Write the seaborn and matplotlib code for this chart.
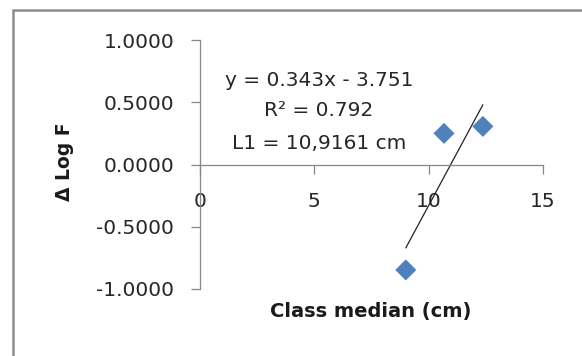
import matplotlib
matplotlib.use("Agg")
import matplotlib.pyplot as plt
import seaborn as sns
import pandas as pd
from matplotlib.patches import Rectangle
from matplotlib.ticker import FormatStrFormatter

# Data
class_median = [9.0, 10.67, 12.37]
delta_log_f = [-0.847, 0.25, 0.306]
annotation_lines = ["y = 0.343x - 3.751", "R² = 0.792", "L1 = 10,9161 cm"]
x_ticks = [0, 5, 10, 15]
y_ticks = [-1.0, -0.5, 0.0, 0.5, 1.0]

df = pd.DataFrame({"x": class_median, "y": delta_log_f})

sns.set_theme(style="white")
plt.rcParams["font.family"] = ["DejaVu Sans"]

W, H = 582, 356
fig = plt.figure(figsize=(W / 100, H / 100), dpi=100)
fig.patch.set_facecolor("white")

# chart-area border (gray frame, left and top visible)
fig.add_artist(Rectangle((13 / W, -0.05), 1.2, (H - 10) / H + 0.05,
                         transform=fig.transFigure, fill=False,
                         edgecolor="#8c8c8c", linewidth=1.8))

ax = fig.add_axes([200 / W, 67 / H, 343 / W, 249 / H])
ax.set_facecolor("white")

sns.regplot(data=df, x="x", y="y", scatter=False, ci=None, truncate=True,
            line_kws=dict(color="#222222", lw=0.9), ax=ax)
sns.scatterplot(data=df, x="x", y="y", marker="D", s=115, color="#4F81BD",
                edgecolor="none", ax=ax, zorder=3, clip_on=False)

ax.set_xlim(0, 15)
ax.set_ylim(-1, 1)
ax.set_xticks(x_ticks)
ax.set_yticks(y_ticks)
ax.yaxis.set_major_formatter(FormatStrFormatter("%.4f"))

for s in ["top", "right"]:
    ax.spines[s].set_visible(False)
ax.spines["bottom"].set_position(("data", 0))
for s in ["left", "bottom"]:
    ax.spines[s].set_color("#868686")
    ax.spines[s].set_linewidth(0.9)

ax.tick_params(axis="both", which="major", direction="out", length=6.5,
               width=0.9, color="#868686", labelsize=14.5, labelcolor="#262626")
ax.tick_params(axis="x", bottom=True, pad=13)
ax.tick_params(axis="y", left=True, pad=12)

ax.set_xlabel("")
ax.set_ylabel("")
fig.text(371 / W, 1 - 312 / H, "Class median (cm)", ha="center", va="center",
         fontsize=14, fontweight="bold", color="#1a1a1a")
fig.text(65 / W, 1 - 162 / H, "Δ Log F", ha="center", va="center",
         rotation=90, fontsize=13.5, fontweight="bold", color="#1a1a1a")

ann_y = [0.677, 0.435, 0.169]
for line, yy in zip(annotation_lines, ann_y):
    ax.text(5.2, yy, line, ha="center", va="center", fontsize=14.5,
            color="#262626")

fig.savefig("out.png", dpi=100, facecolor="white")
